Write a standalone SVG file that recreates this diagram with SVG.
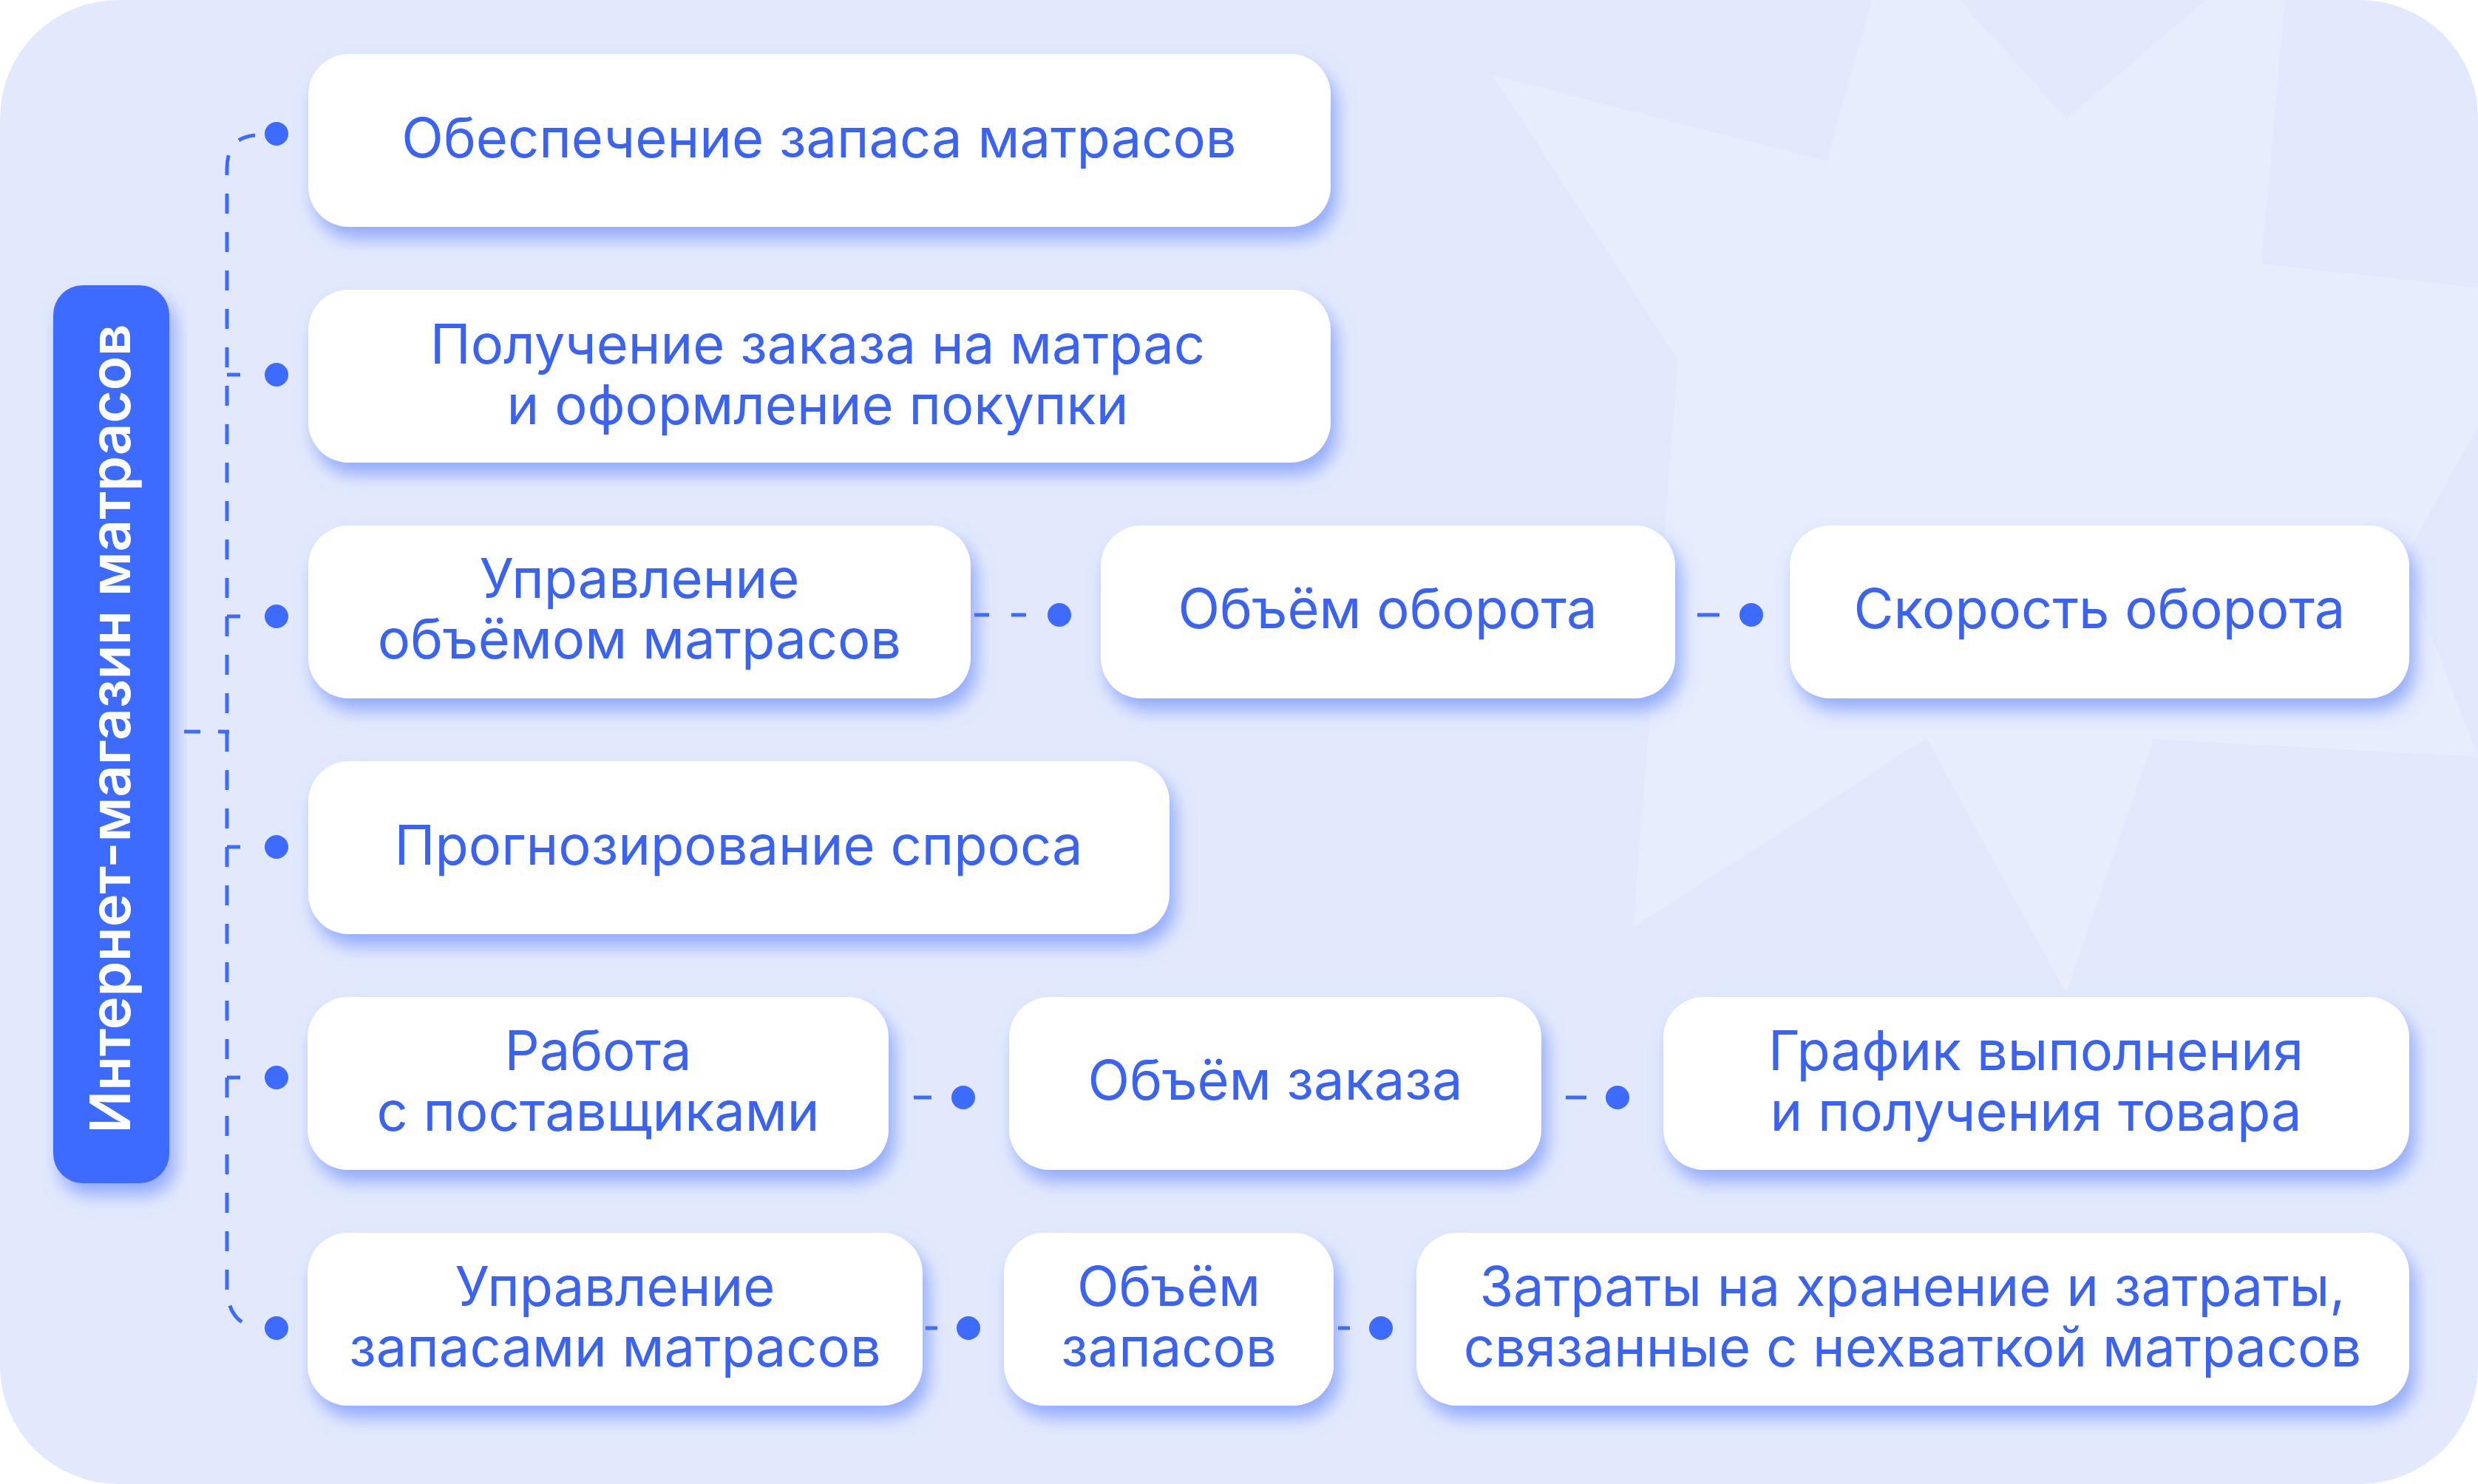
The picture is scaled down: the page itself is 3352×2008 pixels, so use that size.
<svg xmlns="http://www.w3.org/2000/svg" width="3352" height="2008" viewBox="0 0 3352 2008">
<defs>
<filter id="sh" x="-10%" y="-20%" width="125%" height="150%">
<feDropShadow dx="8" dy="16" stdDeviation="12" flood-color="#4F74FF" flood-opacity="0.55"/>
</filter>
<clipPath id="bgclip"><rect x="0" y="0" width="3352" height="2008" rx="160"/></clipPath>
</defs>
<style>
.box{fill:#FFFFFF;filter:url(#sh);}
.t{font-family:Inter,"Noto Sans","DejaVu Sans",sans-serif;font-size:74px;fill:#3B63F3;text-anchor:middle;}
.dot{fill:#3D6AFF;}
.dash{stroke:#3D6AFF;stroke-width:5;fill:none;}
</style>
<rect x="0" y="0" width="3352" height="2008" fill="#FFFFFF"/>
<rect x="0" y="0" width="3352" height="2008" rx="160" fill="#E3E9FC"/>
<g clip-path="url(#bgclip)">
<polygon points="2019,102 2471,218 2560,-100 2796,161 3100,-100 3059,357 3450,400 3250,760 3352,1024 2913,1000 2795,1344 2606,999 2209,1255 2270,487" fill="#E7EDFD"/>
</g>

<g id="connectors">
<path class="dash" d="M307,1745 L307,228 Q307,186 345,183" stroke-dasharray="27 25"/>
<path class="dash" d="M307,1745 Q309,1790 348,1797" stroke-dasharray="0 22 28 40"/>
<line class="dash" x1="249" y1="990" x2="310" y2="990" stroke-dasharray="22 24"/>
<line class="dash" x1="307" y1="507" x2="325" y2="507"/>
<line class="dash" x1="307" y1="834" x2="325" y2="834"/>
<line class="dash" x1="307" y1="1146" x2="325" y2="1146"/>
<line class="dash" x1="307" y1="1458" x2="325" y2="1458"/>
<line class="dash" x1="1318" y1="832" x2="1392" y2="832" stroke-dasharray="20 30"/>
<line class="dash" x1="2296" y1="832" x2="2326" y2="832"/>
<line class="dash" x1="1236" y1="1485" x2="1260" y2="1485"/>
<line class="dash" x1="2118" y1="1485" x2="2146" y2="1485"/>
<line class="dash" x1="1252" y1="1797" x2="1268" y2="1797"/>
<line class="dash" x1="1810" y1="1797" x2="1826" y2="1797"/>
<circle class="dot" cx="374" cy="181" r="16"/>
<circle class="dot" cx="374" cy="507" r="16"/>
<circle class="dot" cx="374" cy="834" r="16"/>
<circle class="dot" cx="374" cy="1146" r="16"/>
<circle class="dot" cx="374" cy="1458" r="16"/>
<circle class="dot" cx="374" cy="1797" r="16"/>
<circle class="dot" cx="1433" cy="832" r="16"/>
<circle class="dot" cx="2369" cy="832" r="16"/>
<circle class="dot" cx="1303" cy="1485" r="16"/>
<circle class="dot" cx="2188" cy="1485" r="16"/>
<circle class="dot" cx="1310" cy="1797" r="16"/>
<circle class="dot" cx="1868" cy="1797" r="16"/>
</g>

<g id="root">
<rect x="72" y="386" width="157" height="1215" rx="40" fill="#3D6AFF" filter="url(#sh)"/>
<text transform="translate(176,986) rotate(-90)" font-family="Inter,'Noto Sans','DejaVu Sans',sans-serif" font-size="76" font-weight="600" fill="#FFFFFF" text-anchor="middle">Интернет-магазин матрасов</text>
</g>

<g id="n1">
<rect class="box" x="417" y="73" width="1383" height="234" rx="55"/>
<text class="t" x="1108" y="213">Обеспечение запаса матрасов</text>
</g>
<g id="n2">
<rect class="box" x="417" y="392" width="1383" height="234" rx="55"/>
<text class="t" x="1106" y="492">Получение заказа на матрас</text>
<text class="t" x="1106" y="574">и оформление покупки</text>
</g>
<g id="n3">
<rect class="box" x="417" y="711" width="896" height="234" rx="55"/>
<text class="t" x="865" y="809">Управление</text>
<text class="t" x="865" y="891">объёмом матрасов</text>
</g>
<g id="n3b">
<rect class="box" x="1489" y="711" width="777" height="234" rx="55"/>
<text class="t" x="1877" y="850">Объём оборота</text>
</g>
<g id="n3c">
<rect class="box" x="2421" y="711" width="838" height="234" rx="55"/>
<text class="t" x="2840" y="850">Скорость оборота</text>
</g>
<g id="n4">
<rect class="box" x="417" y="1030" width="1165" height="234" rx="55"/>
<text class="t" x="999" y="1170">Прогнозирование спроса</text>
</g>
<g id="n5">
<rect class="box" x="416" y="1349" width="786" height="234" rx="55"/>
<text class="t" x="809" y="1448">Работа</text>
<text class="t" x="809" y="1530">с поставщиками</text>
</g>
<g id="n5b">
<rect class="box" x="1365" y="1349" width="720" height="234" rx="55"/>
<text class="t" x="1725" y="1488">Объём заказа</text>
</g>
<g id="n5c">
<rect class="box" x="2250" y="1349" width="1009" height="234" rx="55"/>
<text class="t" x="2754" y="1448">График выполнения</text>
<text class="t" x="2754" y="1530">и получения товара</text>
</g>
<g id="n6">
<rect class="box" x="416" y="1668" width="832" height="234" rx="55"/>
<text class="t" x="832" y="1767">Управление</text>
<text class="t" x="832" y="1849">запасами матрасов</text>
</g>
<g id="n6b">
<rect class="box" x="1358" y="1668" width="446" height="234" rx="55"/>
<text class="t" x="1581" y="1767">Объём</text>
<text class="t" x="1581" y="1849">запасов</text>
</g>
<g id="n6c">
<rect class="box" x="1916" y="1668" width="1343" height="234" rx="55"/>
<text class="t" x="2587" y="1767">Затраты на хранение и затраты,</text>
<text class="t" x="2587" y="1849">связанные с нехваткой матрасов</text>
</g>
</svg>
